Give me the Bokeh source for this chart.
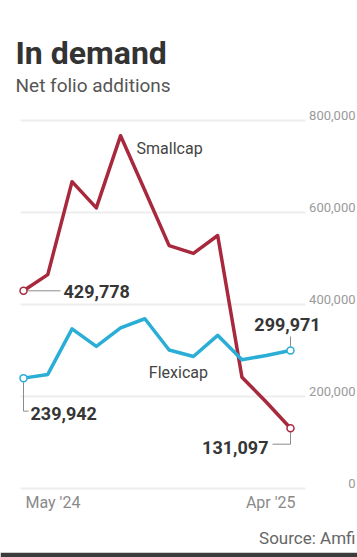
from bokeh.plotting import figure
from bokeh.models import Range1d
from bokeh.core.properties import value
from bokeh.embed import file_html
from bokeh.resources import INLINE

# Monthly net folio additions, May 2024 - April 2025
months = ["May '24", "Jun '24", "Jul '24", "Aug '24", "Sep '24", "Oct '24",
          "Nov '24", "Dec '24", "Jan '25", "Feb '25", "Mar '25", "Apr '25"]
smallcap = [429778, 465000, 667000, 610000, 767000, 648000,
            528000, 511000, 550000, 242000, 188000, 131097]
flexicap = [239942, 248000, 347000, 309000, 349000, 369000,
            301000, 287000, 333000, 280000, 289000, 299971]

y_ticks = [0, 200000, 400000, 600000, 800000]
y_tick_labels = ["0", "200,000", "400,000", "600,000", "800,000"]
x_tick_labels = [months[0], months[-1]]

title = "In demand"
subtitle = "Net folio additions"
source_note = "Source: Amfi"

# ---- layout (screen pixels) ----
W, H = 357, 557
BAR = 5                      # dark rule along the bottom edge
X_FIRST, X_LAST = 23, 290    # screen x of first / last month
Y_ZERO, PX_PER_STEP = 488, 92  # screen y of zero, pixels per 200,000
GRID_LEFT, GRID_RIGHT = 20, 305

step = (X_LAST - X_FIRST) / (len(months) - 1)


def sx(px):
    """screen x -> month index"""
    return (px - X_FIRST) / step


def sy(py):
    """screen y -> value"""
    return (Y_ZERO - py) / PX_PER_STEP * 200000


def dx(px):
    return px / step


def dy(px):
    return px / PX_PER_STEP * 200000


FONT = value("Roboto")
RED = "#a8293d"
BLUE = "#2aaed6"
INK = "#363636"
LEAD = "#8c8c8c"

p = figure(width=W, height=H, output_backend="svg", toolbar_location=None,
           x_axis_location=None, y_axis_location=None, title_location=None,
           x_range=Range1d(sx(0), sx(W)), y_range=Range1d(sy(H - BAR), sy(0)),
           min_border_left=0, min_border_right=0, min_border_top=0,
           min_border_bottom=BAR)
p.outline_line_color = None
p.grid.visible = False
p.background_fill_color = "white"
p.border_fill_color = "#3c3c3c"

xs = list(range(len(months)))

# gridlines and right-hand value scale
p.segment(x0=[sx(GRID_LEFT)] * len(y_ticks), x1=[sx(GRID_RIGHT)] * len(y_ticks),
          y0=y_ticks, y1=y_ticks, line_color="#ededed", line_width=2)
p.text(x=[sx(W - 2)] * len(y_ticks), y=y_ticks, text=y_tick_labels,
       text_font=FONT, text_font_size="13px", text_color="#9a9a9a",
       text_align="right", text_baseline="middle", y_offset=-5)

# month labels under the chart
p.text(x=[0], y=[0], text=[x_tick_labels[0]], text_font=FONT,
       text_font_size="16px", text_color="#8a8a8a", text_align="left",
       text_baseline="middle", x_offset=2, y_offset=14)
p.text(x=[len(months) - 1], y=[0], text=[x_tick_labels[1]], text_font=FONT,
       text_font_size="16px", text_color="#8a8a8a", text_align="right",
       text_baseline="middle", x_offset=5, y_offset=14)

# series lines
p.line(xs, smallcap, line_color=RED, line_width=3.5, line_join="round")
p.line(xs, flexicap, line_color=BLUE, line_width=3.5, line_join="round")

# leader lines for the end values
p.multi_line(
    xs=[[dx(4), dx(37)],
        [0, 0, dx(5)],
        [xs[-1], xs[-1]],
        [xs[-1], xs[-1], xs[-1] - dx(18)]],
    ys=[[smallcap[0], smallcap[0]],
        [flexicap[0] - dy(4), flexicap[0] - dy(33), flexicap[0] - dy(33)],
        [flexicap[-1] + dy(4), flexicap[-1] + dy(14)],
        [smallcap[-1] - dy(4), smallcap[-1] - dy(16), smallcap[-1] - dy(16)]],
    line_color=LEAD, line_width=1)

# end-point markers
for series, col in ((smallcap, RED), (flexicap, BLUE)):
    p.scatter([xs[0], xs[-1]], [series[0], series[-1]], marker="circle", size=7,
              fill_color="white", line_color=col, line_width=1.5)

# value labels
VAL = dict(text_font=FONT, text_font_size="18px", text_font_style="bold",
           text_color=INK, text_baseline="middle")
p.text(x=[0], y=[smallcap[0]], text=[f"{smallcap[0]:,}"],
       text_align="left", x_offset=40, y_offset=1, **VAL)
p.text(x=[0], y=[flexicap[0]], text=[f"{flexicap[0]:,}"],
       text_align="left", x_offset=7, y_offset=35, **VAL)
p.text(x=[xs[-1]], y=[flexicap[-1]], text=[f"{flexicap[-1]:,}"],
       text_align="center", x_offset=-3, y_offset=-26, **VAL)
p.text(x=[xs[-1]], y=[smallcap[-1]], text=[f"{smallcap[-1]:,}"],
       text_align="right", x_offset=-22, y_offset=19, **VAL)

# series names
p.text(x=[4], y=[smallcap[4]], text=["Smallcap"], text_font=FONT,
       text_font_size="16px", text_color="#444444", text_align="left",
       text_baseline="middle", x_offset=16, y_offset=13)
p.text(x=[5], y=[flexicap[5]], text=["Flexicap"], text_font=FONT,
       text_font_size="16px", text_color="#444444", text_align="left",
       text_baseline="middle", x_offset=4, y_offset=54)

# headline, subtitle and source
p.text(x=[sx(15)], y=[sy(52)], text=[title], text_font=FONT,
       text_font_size="32px", text_font_style="bold", text_color="#333333",
       text_align="left", text_baseline="alphabetic")
p.text(x=[sx(15)], y=[sy(85)], text=[subtitle], text_font=FONT,
       text_font_size="19px", text_color="#555555",
       text_align="left", text_baseline="alphabetic")
p.text(x=[sx(W - 2)], y=[sy(537)], text=[source_note], text_font=FONT,
       text_font_size="17px", text_color="#666666",
       text_align="right", text_baseline="middle")

open("out.html", "w").write(file_html(p, INLINE))
